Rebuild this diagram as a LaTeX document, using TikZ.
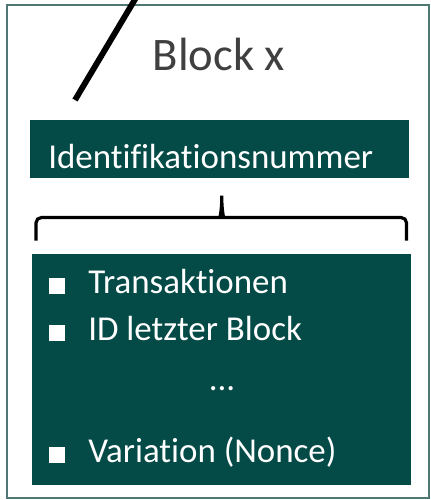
\documentclass[tikz,border=0pt]{standalone}
\usepackage{fontspec}
\setmainfont{Carlito}[Ligatures={NoCommon}]
\usepackage{tikz}
\usetikzlibrary{positioning, calc}

\definecolor{blockteal}{HTML}{044A46}
\definecolor{framegray}{HTML}{4F7774}
\definecolor{titlegray}{HTML}{404040}

\newcommand\bulletsq{\rule{12pt}{12pt}\hspace{17.25pt}}

\begin{document}
\begin{tikzpicture}[
  x=0.75pt, y=-0.75pt,
  frame/.style={
    draw=framegray, line width=1.2pt,
    minimum width=316.5pt, minimum height=369.75pt,
    inner sep=0pt
  },
  title/.style={text=titlegray, font=\fontsize{35}{42}\selectfont, inner sep=0pt, anchor=base},
  idbox/.style={
    fill=blockteal, text=white,
    font=\fontsize{26.2}{31}\selectfont,
    text width=257.25pt, align=left,
    inner xsep=13.5pt, inner ysep=0pt,
    text height=36pt, text depth=7.5pt,   % baseline low in the bar
    anchor=north west
  },
  listbox/.style={
    fill=blockteal,
    minimum width=284.25pt, minimum height=173.25pt,
    inner sep=0pt, anchor=north west
  },
  item/.style={text=white, font=\fontsize{26.2}{31}\selectfont, inner sep=0pt, anchor=base west},
  bracket/.style={line width=2.4pt, rounded corners=4pt},
  link/.style={line width=4.4pt},
]
\useasboundingbox (0,0) rectangle (430,500);

% --- Block frame and title ---
\node[frame] (blk) at (218,251.5) {};
\node[title] (ttl) at (219,70) {Block x};

% --- Header ---
\node[idbox] (id) at (30,120) {Identifikationsnummer};

% --- Content ---
\node[listbox] (list) at ($(id.south west)+(2,75)$) {};
\node[item] (tx) at ($(list.north west)+(17,40)$) {\bulletsq Transaktionen};
\node[item] (last) at ($(list.north west)+(17,87)$) {\bulletsq ID letzter Block};
\node[item, anchor=base] (dots) at ($(list.north west)+(190,137)$) {...};
\node[item] (nonce) at ($(list.north west)+(17,209)$) {\bulletsq Variation (Nonce)};

% --- Brace over content ---
\draw[bracket] ($(list.north west)+(4,-13)$) |- ($(list.north)+(-7,-36)$)
  .. controls +(5,0) and +(0,18) .. ($(list.north)+(0,-61)$)
  .. controls +(0,18) and +(-5,0) .. ($(list.north)+(7,-36)$)
  -| ($(list.north east)+(-5,-13)$);

% --- Link to previous block ---
\coordinate (lnkA) at (75,100);
\coordinate (lnkB) at (137,-4);
\draw[link] (lnkA) -- (lnkB);

\end{tikzpicture}
\end{document}
